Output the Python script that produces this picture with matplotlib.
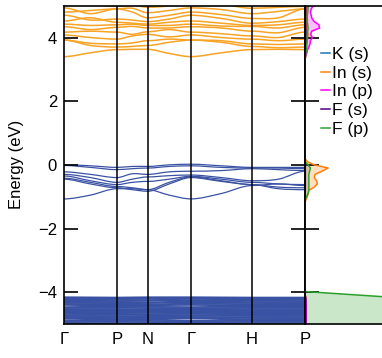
import matplotlib
matplotlib.use("Agg")
import matplotlib.pyplot as plt
from matplotlib.path import Path
from matplotlib.patches import PathPatch

plt.rcParams['font.family'] = ['Liberation Sans', 'DejaVu Sans']
plt.rcParams['axes.unicode_minus'] = True

# High-symmetry path (BCC): distances in units of 2*pi/a
k_labels = ["Γ", "P", "N", "Γ", "H", "P"]
k_ticks = [0.0, 0.866, 1.366, 2.073, 3.073, 3.939]

# Conduction bands (In 5s/5p): values at Γ, mid, P, mid, N, mid, Γ, mid, H, mid, P
cond_bands = [
    [3.40, 3.52, 3.62, 3.63, 3.63, 3.50, 3.40, 3.52, 3.62, 3.63, 3.62],
    [3.92, 3.75, 3.70, 3.72, 3.75, 3.85, 3.92, 3.85, 3.72, 3.68, 3.70],
    [3.92, 3.82, 3.80, 3.83, 3.90, 3.95, 3.92, 3.90, 3.80, 3.78, 3.80],
    [4.08, 4.00, 3.95, 4.05, 4.10, 4.02, 4.08, 4.00, 3.95, 3.90, 3.95],
    [4.17, 4.20, 4.17, 4.10, 4.18, 4.25, 4.17, 4.12, 4.05, 4.00, 4.17],
    [4.34, 4.25, 4.32, 4.35, 4.30, 4.30, 4.34, 4.30, 4.20, 4.15, 4.32],
    [4.42, 4.38, 4.40, 4.42, 4.38, 4.38, 4.42, 4.36, 4.35, 4.30, 4.40],
    [4.52, 4.62, 4.48, 4.45, 4.42, 4.48, 4.52, 4.45, 4.38, 4.40, 4.48],
    [4.70, 4.55, 4.58, 4.55, 4.50, 4.58, 4.70, 4.60, 4.45, 4.50, 4.58],
    [4.80, 4.85, 4.90, 4.80, 4.62, 4.70, 4.80, 4.72, 4.60, 4.62, 4.90],
    [4.93, 4.75, 4.90, 4.92, 4.78, 4.85, 4.93, 4.88, 4.75, 4.82, 4.90],
    [5.15, 5.05, 4.98, 5.02, 4.95, 5.00, 5.15, 5.05, 4.92, 4.95, 4.98],
]

# Upper valence bands (In 5s - F 2p antibonding)
val_bands = [
    [0.00, -0.03, -0.08, -0.05, -0.05, 0.00, 0.02, -0.03, -0.08, -0.08, -0.08],
    [-0.02, -0.08, -0.15, -0.12, -0.10, -0.05, -0.03, -0.08, -0.10, -0.10, -0.12],
    [-0.22, -0.30, -0.40, -0.28, -0.30, -0.22, -0.20, -0.18, -0.12, -0.15, -0.18],
    [-0.30, -0.40, -0.55, -0.45, -0.38, -0.34, -0.32, -0.40, -0.50, -0.45, -0.20],
    [-0.35, -0.50, -0.62, -0.55, -0.52, -0.45, -0.36, -0.45, -0.55, -0.60, -0.62],
    [-0.42, -0.55, -0.68, -0.72, -0.78, -0.55, -0.38, -0.50, -0.62, -0.70, -0.72],
    [-0.45, -0.60, -0.72, -0.78, -0.83, -0.60, -0.40, -0.52, -0.62, -0.75, -0.78],
    [-1.07, -0.95, -0.75, -0.75, -0.78, -0.95, -1.07, -0.90, -0.65, -0.60, -0.65],
]

# F 2p manifold: values at Γ, P, N, Γ, H, P
core_bands = [
    [-4.16, -4.17, -4.16, -4.16, -4.17, -4.17],
    [-4.19, -4.21, -4.20, -4.18, -4.20, -4.21],
    [-4.22, -4.24, -4.25, -4.21, -4.24, -4.24],
    [-4.26, -4.28, -4.27, -4.25, -4.27, -4.28],
    [-4.30, -4.31, -4.32, -4.29, -4.31, -4.31],
    [-4.33, -4.35, -4.34, -4.33, -4.34, -4.35],
    [-4.37, -4.38, -4.39, -4.36, -4.38, -4.38],
    [-4.40, -4.42, -4.41, -4.40, -4.42, -4.42],
    [-4.47, -4.45, -4.46, -4.47, -4.45, -4.45],
    [-4.50, -4.49, -4.50, -4.51, -4.49, -4.49],
    [-4.54, -4.53, -4.55, -4.54, -4.53, -4.53],
    [-4.57, -4.57, -4.58, -4.58, -4.56, -4.57],
    [-4.61, -4.60, -4.62, -4.61, -4.60, -4.60],
    [-4.64, -4.64, -4.65, -4.65, -4.64, -4.64],
    [-4.68, -4.68, -4.69, -4.68, -4.67, -4.68],
    [-4.72, -4.71, -4.72, -4.72, -4.71, -4.71],
    [-4.75, -4.75, -4.76, -4.75, -4.74, -4.75],
    [-4.79, -4.78, -4.79, -4.79, -4.78, -4.78],
    [-4.82, -4.82, -4.83, -4.82, -4.81, -4.82],
    [-4.88, -4.85, -4.86, -4.89, -4.85, -4.85],
    [-4.91, -4.89, -4.90, -4.92, -4.89, -4.89],
    [-4.94, -4.93, -4.94, -4.95, -4.93, -4.93],
    [-4.98, -4.97, -4.98, -4.98, -4.97, -4.97],
    [-5.02, -5.01, -5.02, -5.02, -5.01, -5.01],
]

# Projected DOS (states/eV, arbitrary scale)
dos_energy = [-5.0, -4.6, -4.3, -4.2, -4.14, -4.1, -4.06, -4.02, -3.98, -3.9,
              -1.2, -1.1, -1.0, -0.9, -0.8, -0.7, -0.6, -0.5, -0.4, -0.3, -0.2, -0.1, 0.0, 0.1, 0.2,
              3.3, 3.4, 3.5, 3.6, 3.7, 3.8, 3.9, 4.0, 4.1, 4.2, 4.3, 4.4, 4.5, 4.6, 4.7, 4.8, 4.9, 5.0]
dos_K_s = [0.0] * 10 + [0.0] * 15 + [0.0, 0.0, 0.005, 0.005, 0.01, 0.01, 0.01, 0.01, 0.01, 0.01,
                                     0.01, 0.01, 0.01, 0.01, 0.01, 0.01, 0.01, 0.01]
dos_In_s = [0.01, 0.01, 0.01, 0.01, 0.01, 0.005, 0.0, 0.0, 0.0, 0.0,
            0.0, 0.01, 0.03, 0.04, 0.05, 0.12, 0.16, 0.15, 0.12, 0.13, 0.22, 0.30, 0.12, 0.03, 0.0,
            0.0, 0.01, 0.02, 0.03, 0.02, 0.02, 0.03, 0.03, 0.04, 0.03, 0.02, 0.02, 0.02, 0.02,
            0.02, 0.02, 0.02, 0.02]
dos_In_p = [0.015, 0.015, 0.015, 0.01, 0.005, 0.0, 0.0, 0.0, 0.0, 0.0,
            0.0, 0.0, 0.0, 0.0, 0.005, 0.005, 0.005, 0.005, 0.005, 0.005, 0.005, 0.005, 0.005, 0.0, 0.0,
            0.0, 0.005, 0.02, 0.03, 0.05, 0.065, 0.07, 0.095, 0.074, 0.087, 0.19, 0.18, 0.12, 0.09,
            0.08, 0.07, 0.08, 0.11]
dos_F_s = [0.01, 0.01, 0.01, 0.01, 0.005, 0.0, 0.0, 0.0, 0.0, 0.0,
           0.0, 0.0, 0.0, 0.0, 0.0, 0.0, 0.0, 0.0, 0.0, 0.0, 0.0, 0.0, 0.0, 0.0, 0.0,
           0.0, 0.0, 0.005, 0.005, 0.01, 0.01, 0.01, 0.01, 0.01, 0.01, 0.01, 0.01, 0.01, 0.01,
           0.01, 0.01, 0.01, 0.01]
dos_F_p = [6.0, 6.0, 5.0, 2.0, 1.0, 0.75, 0.5, 0.25, 0.0, 0.0,
           0.0, 0.0, 0.02, 0.04, 0.05, 0.05, 0.05, 0.05, 0.05, 0.05, 0.06, 0.07, 0.04, 0.0, 0.0,
           0.0, 0.005, 0.01, 0.015, 0.02, 0.025, 0.03, 0.03, 0.03, 0.035, 0.04, 0.035, 0.03, 0.03,
           0.03, 0.035, 0.04, 0.04]

dos_series = [
    ("K (s)", dos_K_s, "#1f77b4"),
    ("In (s)", dos_In_s, "#ff7f0e"),
    ("In (p)", dos_In_p, "#ff00ff"),
    ("F (s)", dos_F_s, "#4b0082"),
    ("F (p)", dos_F_p, "#2ca02c"),
]

COND_COLOR = "#f7a325"
VAL_COLOR = "#3a52a3"


def band_path(xs, ys, hs_flags):
    """Smooth cubic path through band nodes; flat tangent at high-symmetry points."""
    n = len(xs)
    slopes = []
    for i in range(n):
        if hs_flags[i] or i == 0 or i == n - 1:
            slopes.append(0.0)
        else:
            slopes.append((ys[i + 1] - ys[i - 1]) / (xs[i + 1] - xs[i - 1]))
    verts = [(xs[0], ys[0])]
    codes = [Path.MOVETO]
    for i in range(n - 1):
        h = xs[i + 1] - xs[i]
        verts.append((xs[i] + h / 3, ys[i] + slopes[i] * h / 3))
        verts.append((xs[i + 1] - h / 3, ys[i + 1] - slopes[i + 1] * h / 3))
        verts.append((xs[i + 1], ys[i + 1]))
        codes += [Path.CURVE4] * 3
    return Path(verts, codes)


# node positions: high-symmetry points and segment midpoints
k_nodes = []
hs_nodes = []
for i, k in enumerate(k_ticks):
    k_nodes.append(k)
    hs_nodes.append(True)
    if i < len(k_ticks) - 1:
        k_nodes.append(0.5 * (k + k_ticks[i + 1]))
        hs_nodes.append(False)

fig = plt.figure(figsize=(3.82, 3.58), dpi=100)
W, H = 382.0, 358.0
ax = fig.add_axes([64 / W, 34 / H, 241 / W, 318.3 / H])
ax_dos = fig.add_axes([305 / W, 34 / H, 77 / W, 318.3 / H])

for band in core_bands:
    ax.add_patch(PathPatch(band_path(k_ticks, band, [True] * 6), fill=False,
                           edgecolor=VAL_COLOR, lw=1.3))
for band in val_bands:
    ax.add_patch(PathPatch(band_path(k_nodes, band, hs_nodes), fill=False,
                           edgecolor=VAL_COLOR, lw=0.9))
for band in cond_bands:
    ax.add_patch(PathPatch(band_path(k_nodes, band, hs_nodes), fill=False,
                           edgecolor=COND_COLOR, lw=1.1))

for k in k_ticks[1:-1]:
    ax.axvline(k, color="black", lw=1.1, zorder=3)

ax.set_xlim(k_ticks[0], k_ticks[-1])
ax.set_ylim(-5, 5)
ax.set_xticks(k_ticks)
ax.set_xticklabels(k_labels)
ax.set_yticks([-4, -2, 0, 2, 4])
ax.tick_params(axis="x", length=0, pad=6, labelsize=12)
ax.tick_params(axis="y", direction="in", length=10, width=1.2, pad=5, labelsize=12,
               right=True)
ax.set_ylabel("Energy (eV)", fontsize=12)
ax.yaxis.set_label_coords(-0.165, 0.5)
for s in ax.spines.values():
    s.set_linewidth(1.2)

# Projected density of states
for label, vals, color in dos_series:
    ax_dos.fill_betweenx(dos_energy, 0, vals, color=color, alpha=0.25, lw=0)
    ax_dos.plot(vals, dos_energy, color=color, lw=1.1, label=label)

ax_dos.set_xlim(0, 1.0)
ax_dos.set_ylim(-5, 5)
ax_dos.set_xticks([])
ax_dos.set_yticks([-4, -2, 0, 2, 4])
ax_dos.set_yticklabels([])
ax_dos.tick_params(axis="y", direction="in", length=10, width=1.2)
ax_dos.spines["right"].set_visible(False)
for s in ax_dos.spines.values():
    s.set_linewidth(1.2)

fig.legend(loc="upper left", bbox_to_anchor=(321 / W, 1 - 47 / H), frameon=False,
           fontsize=12.5, handlelength=0.5, handletextpad=0.15, labelspacing=0.2,
           borderpad=0, borderaxespad=0)

fig.savefig("out.png", dpi=100)
